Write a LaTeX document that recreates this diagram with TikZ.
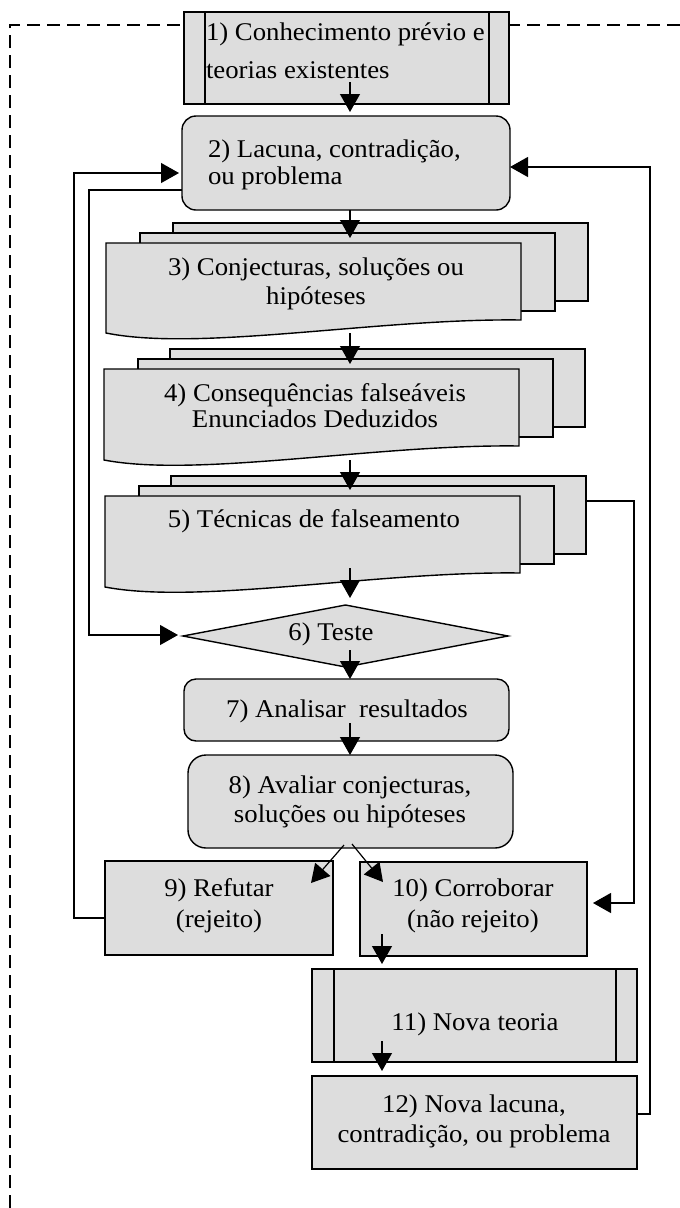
\documentclass[tikz,border=0pt]{standalone}
\usepackage{fontspec}
\setmainfont{Liberation Serif}[FakeStretch=1.05]
\usetikzlibrary{arrows.meta,shapes.geometric,calc}
\definecolor{boxgray}{HTML}{DDDDDD}

\begin{document}
\begin{tikzpicture}[x=1pt,y=-1pt,
  outlined/.style={draw=black, line width=1.4pt, fill=boxgray, inner sep=0pt, outer sep=0pt},
  plainbox/.style={outlined, rectangle},
  roundbox/.style={outlined, rectangle, rounded corners=#1},
  roundbox/.default=14pt,
  docpage/.style={outlined, rectangle, anchor=north west, minimum width=415pt, minimum height=78pt},
  docfront/.style={rectangle, inner sep=0pt, outer sep=0pt, anchor=north west, minimum width=415pt, minimum height=77pt},
  boxtext/.style={inner sep=0pt, outer sep=0pt, anchor=base, align=center, font=\fontsize{25.5pt}{#1}\selectfont},
  boxtext/.default=28pt,
  bar/.style={line width=1.4pt},
  conn/.style={line width=1.2pt, -{Triangle[length=18pt,width=20pt]}},
  dashframe/.style={line width=1.4pt, dash pattern=on 13pt off 7pt},
]
\useasboundingbox (0,0) rectangle (680,1208);

% open dashed frame
\draw[dashframe] (10,1208) -- (10,25) -- (680,25);

% 1) predefined process
\node[plainbox, minimum width=325pt, minimum height=92pt] (n1) at (346.5,58) {};
\draw[bar] ($(n1.north west)+(21,0)$) -- ($(n1.south west)+(21,0)$);
\draw[bar] ($(n1.north east)+(-20,0)$) -- ($(n1.south east)+(-20,0)$);
\node[boxtext=38pt, anchor=base west, align=left] (t1) at (206,78) {1) Conhecimento prévio e\\teorias existentes};

% 2) rounded box
\node[roundbox, minimum width=328pt, minimum height=94pt] (n2) at (346,163) {};
\node[boxtext=27pt, anchor=base west, align=left] (t2) at (208,184) {2) Lacuna, contradição,\\ou problema};

% 3) multidocument
\node[docpage] (n3c) at (173,223) {};
\node[docpage] (n3b) at (140,233) {};
\node[docfront] (n3) at (106,243) {};
\draw[outlined] (n3.north west) -- (n3.north east) -- (n3.south east)
  .. controls ($(n3.south east)+(-142,-2)$) and ($(n3.south west)+(94,32)$) .. ($(n3.south west)+(0,13)$) -- cycle;
\node[boxtext=29pt] (t3) at (316,304) {3) Conjecturas, soluções ou\\hipóteses};

% 4) multidocument
\node[docpage] (n4c) at (170,349) {};
\node[docpage] (n4b) at (138,359) {};
\node[docfront] (n4) at (104,369) {};
\draw[outlined] (n4.north west) -- (n4.north east) -- (n4.south east)
  .. controls ($(n4.south east)+(-142,-2)$) and ($(n4.south west)+(94,32)$) .. ($(n4.south west)+(0,14)$) -- cycle;
\node[boxtext=26pt] (t4) at (315,427) {4) Consequências falseáveis\\Enunciados Deduzidos};

% 5) multidocument
\node[docpage] (n5c) at (171,476) {};
\node[docpage] (n5b) at (139,486) {};
\node[docfront] (n5) at (105,496) {};
\draw[outlined] (n5.north west) -- (n5.north east) -- (n5.south east)
  .. controls ($(n5.south east)+(-142,-2)$) and ($(n5.south west)+(94,32)$) .. ($(n5.south west)+(0,14)$) -- cycle;
\node[boxtext] (t5) at (314,527) {5) Técnicas de falseamento};

% 6) decision
\node[outlined, diamond, minimum width=325pt, minimum height=62pt] (n6) at (345.5,636) {};
\node[boxtext] (t6) at (331,640) {6) Teste};

% 7) and 8) rounded boxes
\node[roundbox=12pt, minimum width=325pt, minimum height=62pt] (n7) at (346.5,710) {};
\node[boxtext] (t7) at (347,717) {7) Analisar~ resultados};
\node[roundbox=18pt, minimum width=325pt, minimum height=93pt] (n8) at (350.5,801.5) {};
\node[boxtext=29pt] (t8) at (350,822) {8) Avaliar conjecturas,\\soluções ou hipóteses};

% 9) and 10)
\node[plainbox, minimum width=228pt, minimum height=94pt] (n9) at (219,908) {};
\node[boxtext=31pt] (t9) at (219,927) {9) Refutar\\(rejeito)};
\node[plainbox, minimum width=227pt, minimum height=94pt] (n10) at (473.5,909) {};
\node[boxtext=31pt] (t10) at (473,927) {10) Corroborar\\(não rejeito)};

% 11) predefined process
\node[plainbox, minimum width=325pt, minimum height=93pt] (n11) at (474.5,1015.5) {};
\draw[bar] ($(n11.north west)+(22,0)$) -- ($(n11.south west)+(22,0)$);
\draw[bar] ($(n11.north east)+(-21,0)$) -- ($(n11.south east)+(-21,0)$);
\node[boxtext] (t11) at (475,1030) {11) Nova teoria};

% 12)
\node[plainbox, minimum width=325pt, minimum height=93pt] (n12) at (474.5,1122.5) {};
\node[boxtext=30pt] (t12) at (474,1142) {12) Nova lacuna,\\contradição, ou problema};

% connector axes and lanes
\coordinate (ax) at (350,0);
\coordinate (ax2) at (382,0);
\coordinate (laneA) at (74,500);
\coordinate (laneB) at (89,400);
\coordinate (laneR) at (650,600);
\coordinate (laneR2) at (634,700);

% main flow
\draw[conn] ($(ax|-n1.south)+(0,-22)$) -- ($(ax|-n2.north)+(0,-4)$);
\draw[conn] (ax|-n2.south) -- ($(ax|-n3.north)+(0,-5)$);
\draw[conn] ($(ax|-n3.south)+(0,13)$) -- ($(ax|-n4.north)+(0,-5)$);
\draw[conn] ($(ax|-n4.south)+(0,14)$) -- ($(ax|-n5.north)+(0,-6)$);
\draw[conn] ($(ax|-n5.south)+(0,-5)$) -- ($(ax|-n6.north)+(0,-7)$);
\draw[conn] ($(ax|-n6.south)+(0,-17)$) -- (ax|-n7.north);
\draw[conn] ($(ax|-n7.south)+(0,-18)$) -- (ax|-n8.north);
\draw[conn] ($(n8.south)+(-6.5,-3)$) -- ($(n9.north east)+(-22,22)$);
\draw[conn] ($(n8.south)+(1.5,-4)$) -- ($(n10.north west)+(23,20)$);
\draw[conn] ($(ax2|-n10.south)+(0,-22)$) -- ($(ax2|-n11.north)+(0,-5)$);
\draw[conn] ($(ax2|-n11.south)+(0,-21)$) -- ($(ax2|-n12.north)+(0,-5)$);

% feedback loops
\draw[conn] ($(n9.west)+(0,10)$) -| (laneA) |- ($(n2.west)+(-3,10)$);
\draw[conn] ($(n2.west)+(0,27)$) -| (laneB) |- ($(n6.west)+(-5,-1)$);
\draw[conn] ($(n12.east)+(0,-8.5)$) -| (laneR) |- ($(n2.east)+(0,4)$);
\draw[conn] ($(n5c.east)+(0,-14)$) -| (laneR2) |- ($(n10.east)+(6,-6)$);
\end{tikzpicture}
\end{document}
